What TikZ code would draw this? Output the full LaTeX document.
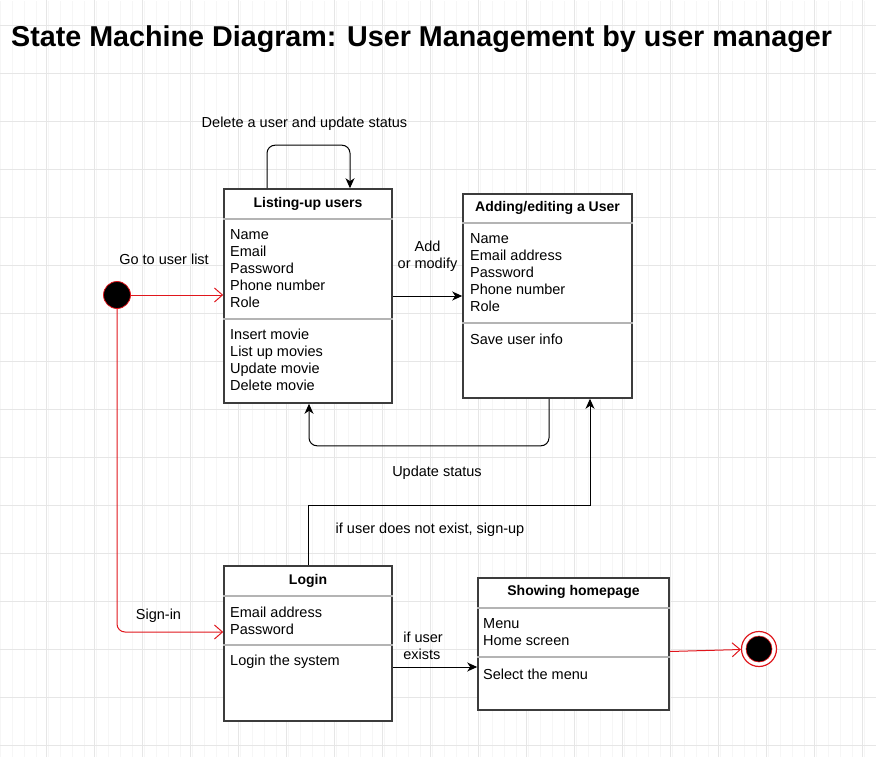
\documentclass[tikz,border=0pt]{standalone}
\usepackage{fontspec}
\setmainfont{Liberation Sans}
\usetikzlibrary{positioning}
\usetikzlibrary{arrows.meta}
\definecolor{boxgray}{HTML}{3C3C3C}
\definecolor{sepgray}{HTML}{B4B4B4}
\definecolor{gridmajor}{HTML}{E6E6E6}
\definecolor{gridminor}{HTML}{F6F6F6}
\definecolor{umlred}{HTML}{E0161C}
\tikzstyle{state} = [rectangle, draw=boxgray, line width=1.6pt, fill=white, inner sep=0pt]
\tikzstyle{head} = [inner sep=0pt, font=\bfseries\fontsize{14}{17}\selectfont]
\tikzstyle{body} = [inner sep=0pt, anchor=west, align=left, font=\fontsize{14.5}{17}\selectfont]
\tikzstyle{lbl} = [inner sep=0pt, align=center, font=\fontsize{14.5}{17}\selectfont]
\tikzstyle{sep} = [draw=sepgray, line width=1.6pt]
\tikzstyle{line} = [draw, line width=1pt, -{Stealth[length=10pt, width=9pt, inset=3pt]}]
\tikzstyle{redline} = [draw=umlred, line width=1pt, -{Straight Barb[length=8pt, width=14pt]}]

\begin{document}
\begin{tikzpicture}[x=1pt, y=-1pt]
    \useasboundingbox (0,0) rectangle (876,757);
    % grid
    \draw[gridminor, line width=0.8pt] (-2,1) grid[step=12] (876,757);
    \foreach \gx in {46,94,...,862} \draw[gridmajor, line width=0.8pt] (\gx,0) -- (\gx,757);
    \foreach \gy in {25,73,...,745} \draw[gridmajor, line width=0.8pt] (0,\gy) -- (876,\gy);

    \node[anchor=base west, inner sep=0pt, font=\bfseries\fontsize{28.7}{34}\selectfont] (TITLE) at (11,47) {State Machine Diagram: User Management by user manager};

    % states
    \node[state, minimum width=168pt, minimum height=214pt] (LIST) at (308,296) {};
    \node[state, minimum width=169pt, minimum height=204pt] (ADD) at (547.5,296) {};
    \node[state, minimum width=168pt, minimum height=155pt] (LOGIN) at (308,643.5) {};
    \node[state, minimum width=191pt, minimum height=132pt] (SHOW) at (573.5,644) {};

    \node[head] (LISTh) at (308,204) {Listing-up users};
    \draw[sep] (LIST.west |- 0,219) -- (LIST.east |- 0,219);
    \node[body] (LISTa) at (230,269) {Name\\Email\\Password\\Phone number\\Role};
    \draw[sep] (LIST.west |- 0,319) -- (LIST.east |- 0,319);
    \node[body] (LISTm) at (230,360) {Insert movie\\List up movies\\Update movie\\Delete movie};

    \node[head] (ADDh) at (547.5,208) {Adding/editing a User};
    \draw[sep] (ADD.west |- 0,223) -- (ADD.east |- 0,223);
    \node[body] (ADDa) at (470,273) {Name\\Email address\\Password\\Phone number\\Role};
    \draw[sep] (ADD.west |- 0,323) -- (ADD.east |- 0,323);
    \node[body] (ADDm) at (470,339) {Save user info};

    \node[head] (LOGINh) at (308,581) {Login};
    \draw[sep] (LOGIN.west |- 0,596) -- (LOGIN.east |- 0,596);
    \node[body] (LOGINa) at (230,620.5) {Email address\\Password};
    \draw[sep] (LOGIN.west |- 0,645) -- (LOGIN.east |- 0,645);
    \node[body] (LOGINm) at (230,662) {Login the system};

    \node[head] (SHOWh) at (573.5,592) {Showing homepage};
    \draw[sep] (SHOW.west |- 0,608) -- (SHOW.east |- 0,608);
    \node[body] (SHOWa) at (483,632.5) {Menu\\Home screen};
    \draw[sep] (SHOW.west |- 0,657) -- (SHOW.east |- 0,657);
    \node[body] (SHOWm) at (483,674) {Select the menu};

    % pseudo states
    \node[circle, fill=black, draw=umlred, line width=0.8pt, minimum size=27pt, inner sep=0pt] (START) at (117,295) {};
    \node[circle, fill=white, draw=umlred, line width=1.2pt, minimum size=35pt, inner sep=0pt] (END) at (759,649) {};
    \fill[black, draw=umlred, line width=0.6pt] (END.center) circle (13);

    % transitions
    \path[redline] (START) -- node[lbl, above=30pt, xshift=-13pt] {Go to user list} (LIST.west |- START);
    \path[redline, rounded corners=8pt] (START) |- node[lbl, pos=0.7, above=9pt, xshift=-1pt] {Sign-in} (LOGIN.west |- 0,632);
    \path[line, rounded corners=8pt] ([xshift=-41pt]LIST.north) -- ++(0,-43) -| node[lbl, pos=0.25, above=14pt, xshift=-4pt] {Delete a user and update status} ([xshift=42pt]LIST.north);
    \path[line] (LIST) -- node[lbl, above=24pt] {Add\\or modify} (ADD);
    \path[line, rounded corners=8pt] ([xshift=1.5pt]ADD.south) -- ++(0,47) -| node[lbl, pos=0.25, below=20pt, xshift=8pt] {Update status} ([xshift=1pt]LIST.south);
    \path[line] (LOGIN.north) -- ++(0,-60) -| node[lbl, pos=0.25, below=17pt, xshift=-19pt] {if user does not exist, sign-up} ([xshift=42.5pt]ADD.south);
    \path[line] (LOGIN.east |- 0,667) -- node[lbl, pos=0, anchor=south west, align=left, xshift=10pt, yshift=7pt] {if user\\exists} (SHOW.west |- 0,667);
    \path[redline] (SHOW.east |- 0,651.5) -- (END);
\end{tikzpicture}
\end{document}
